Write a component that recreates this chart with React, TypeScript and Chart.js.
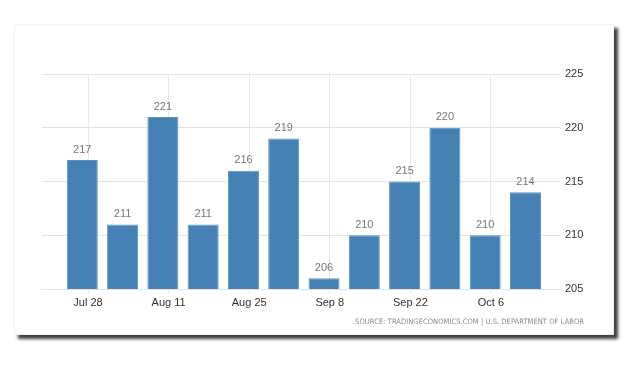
import React, { useEffect, useRef } from "react";
import { Chart, registerables } from "chart.js";

Chart.register(...registerables);

const barDates = [
  "2018-07-27", "2018-08-03", "2018-08-10", "2018-08-17", "2018-08-24", "2018-08-31",
  "2018-09-07", "2018-09-14", "2018-09-21", "2018-09-28", "2018-10-05", "2018-10-12",
];
const claims = [217, 211, 221, 211, 216, 219, 206, 210, 215, 220, 210, 214];
const tickDates = ["2018-07-28", "2018-08-11", "2018-08-25", "2018-09-08", "2018-09-22", "2018-10-06"];
const tickLabels = ["Jul 28", "Aug 11", "Aug 25", "Sep 8", "Sep 22", "Oct 6"];
const yTicks = [205, 210, 215, 220, 225];

const DAY = 86400000;
const toDay = (s: string) => Date.parse(s + "T00:00:00Z") / DAY;

const FONT = "'Liberation Sans', Arial, sans-serif";

const valueLabels = {
  id: "valueLabels",
  afterDatasetsDraw(chart: any) {
    const { ctx } = chart;
    const meta = chart.getDatasetMeta(0);
    ctx.save();
    ctx.font = `11px ${FONT}`;
    ctx.fillStyle = "#777777";
    ctx.textAlign = "center";
    ctx.textBaseline = "bottom";
    meta.data.forEach((bar: any, i: number) => {
      ctx.fillText(String(claims[i]), bar.x, bar.y - 5);
    });
    ctx.restore();
  },
};

export default function App() {
  const ref = useRef<HTMLCanvasElement>(null);
  useEffect(() => {
    document.body.style.margin = "0";
    const days = barDates.map(toDay);
    const tickDays = tickDates.map(toDay);
    const chart = new Chart(ref.current!, {
      type: "bar",
      data: {
        datasets: [
          {
            data: days.map((d, i) => ({ x: d, y: claims[i] })),
            backgroundColor: "#4581b5",
            borderColor: "#5b93c2",
            borderWidth: 1,
            barPercentage: 0.77,
            categoryPercentage: 1,
          },
        ],
      },
      options: {
        animation: false,
        responsive: false,
        layout: { padding: { left: 42, top: 74, right: 0, bottom: 0 } },
        plugins: { legend: { display: false }, tooltip: { enabled: false } },
        scales: {
          x: {
            type: "linear",
            offset: false,
            min: days[0] - 7,
            max: days[days.length - 1] + 6,
            grid: { offset: false, color: "#e8e8e8", drawTicks: true, tickLength: 4 },
            border: { display: false },
            afterBuildTicks: (scale: any) => {
              scale.ticks = tickDays.map((v) => ({ value: v }));
            },
            afterFit: (scale: any) => {
              scale.height = 81;
            },
            ticks: {
              autoSkip: false,
              maxRotation: 0,
              padding: 3,
              color: "#333333",
              font: { family: FONT, size: 11 },
              callback: (_v: any, i: number) => tickLabels[i],
            },
          },
          y: {
            position: "right",
            min: 205,
            max: 225,
            grid: { color: "#e3e3e3", drawTicks: false },
            border: { display: false },
            afterBuildTicks: (scale: any) => {
              scale.ticks = yTicks.map((v) => ({ value: v }));
            },
            afterFit: (scale: any) => {
              scale.width = 70;
            },
            ticks: {
              padding: 5,
              color: "#333333",
              font: { family: FONT, size: 11 },
            },
          },
        },
      },
      plugins: [valueLabels],
    });
    return () => chart.destroy();
  }, []);

  return (
    <div style={{ position: "fixed", left: 0, top: 0, width: 630, height: 370, background: "#fff" }}>
      <div
        style={{
          position: "absolute",
          left: 14,
          top: 24,
          width: 600,
          height: 311,
          background: "#fff",
          border: "1px solid #f2f2f2",
          boxSizing: "border-box",
          boxShadow: "4px 4px 3px rgba(0,0,0,0.75)",
        }}
      />
      <canvas ref={ref} width={630} height={370} style={{ position: "absolute", left: 0, top: 0 }} />
      <div
        style={{
          position: "absolute",
          right: 630 - 584,
          top: 317,
          fontFamily: "'Liberation Sans Narrow', 'DejaVu Sans Condensed', 'Liberation Sans', sans-serif",
          fontSize: 7.5,
          letterSpacing: 0.05,
          color: "#8a8a8a",
          whiteSpace: "nowrap",
        }}
      >
        SOURCE: TRADINGECONOMICS.COM | U.S. DEPARTMENT OF LABOR
      </div>
    </div>
  );
}
